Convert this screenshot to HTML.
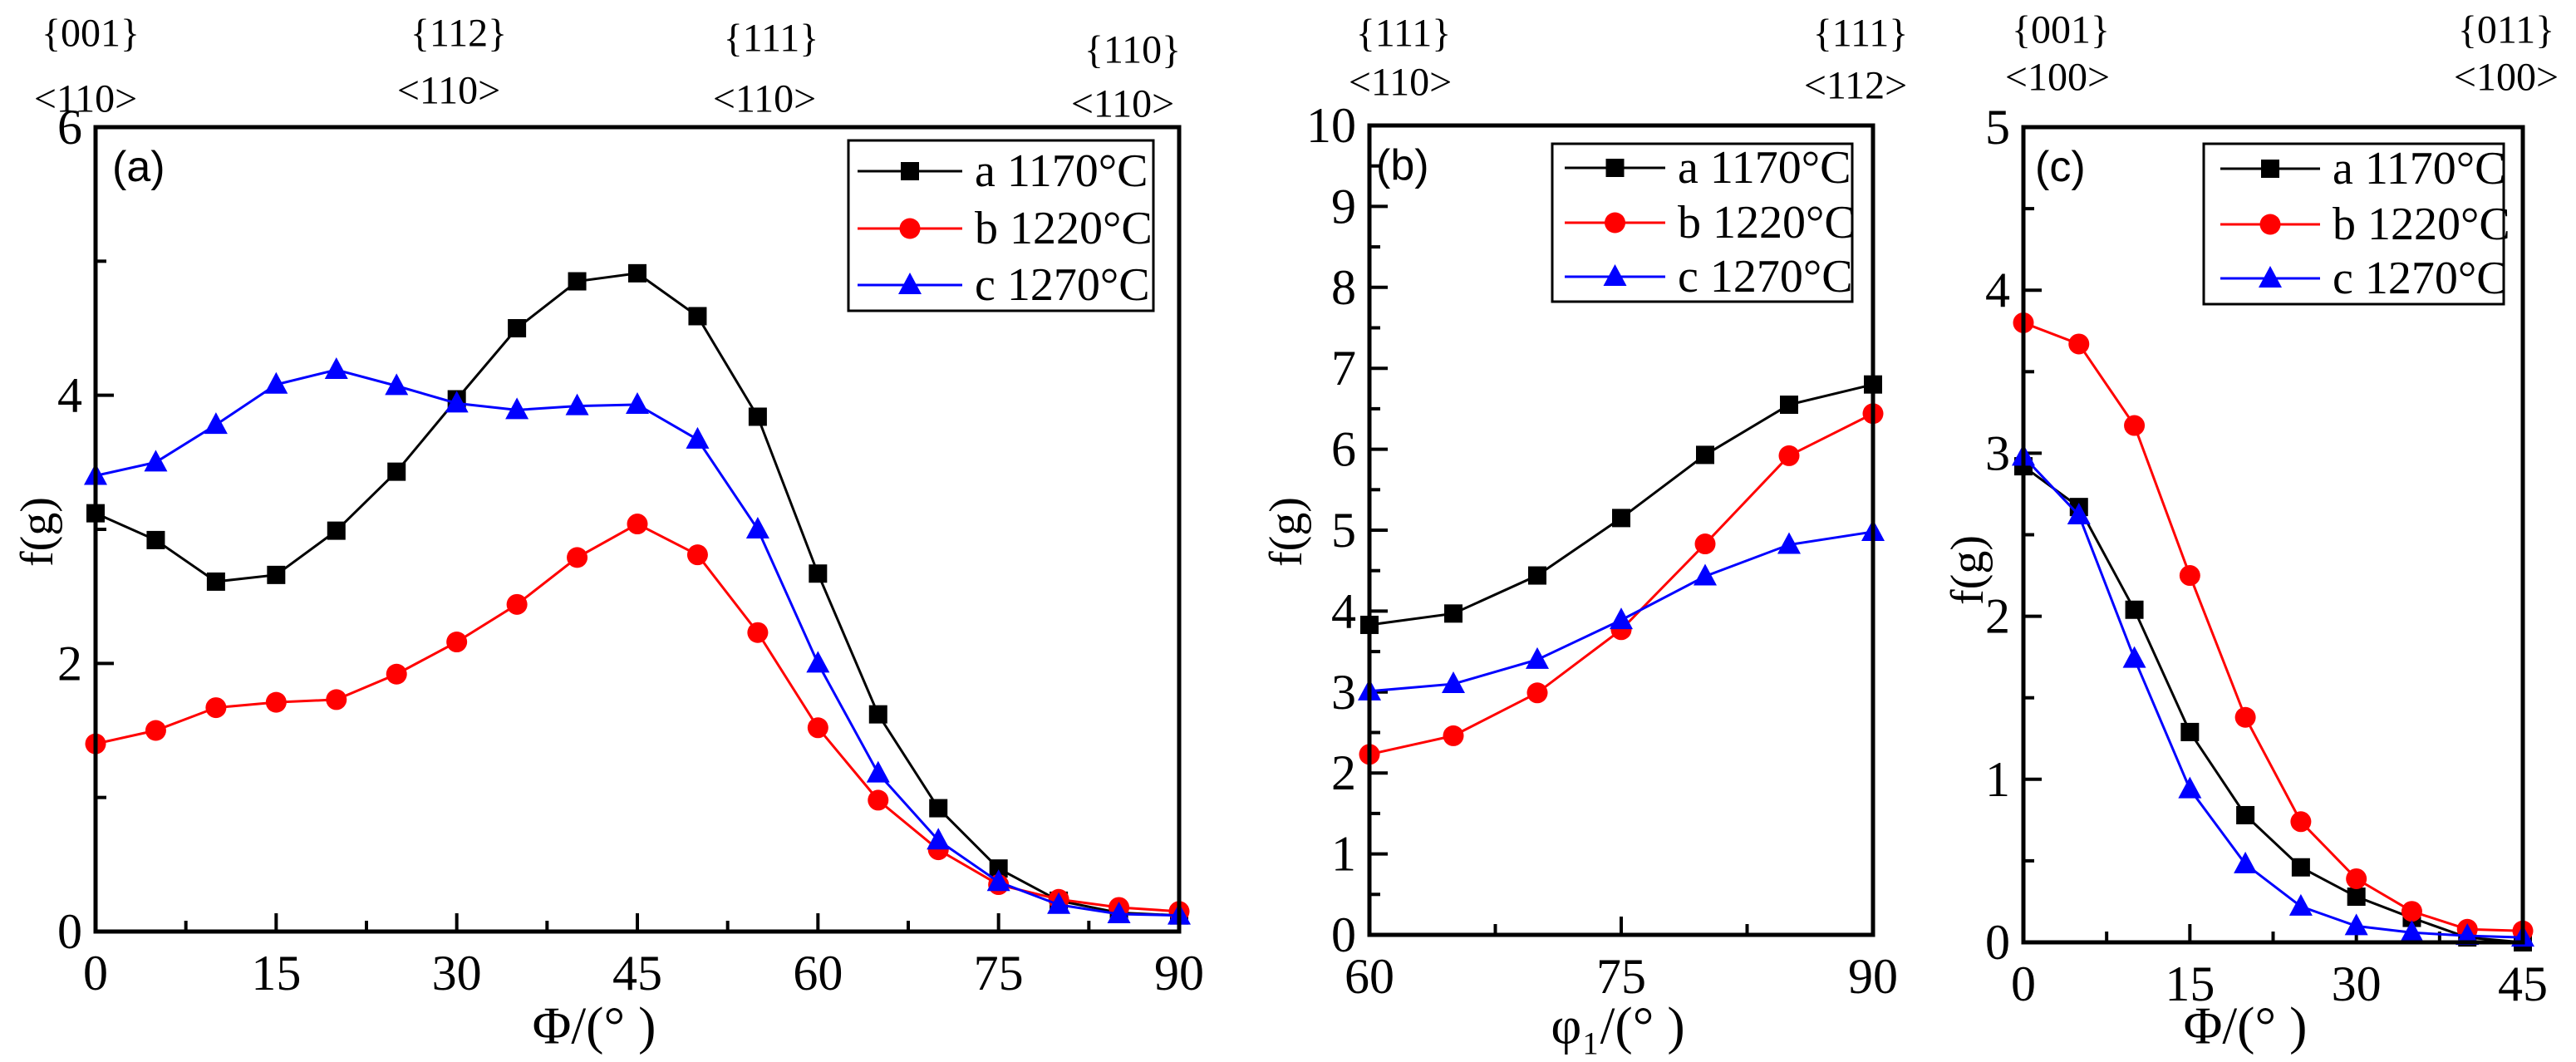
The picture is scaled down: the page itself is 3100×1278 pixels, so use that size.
<!DOCTYPE html>
<html><head><meta charset="utf-8"><style>
html,body{margin:0;padding:0;background:#fff}
svg{display:block}
text{font-family:"Liberation Serif",serif;fill:#000}
text.sans{font-family:"Liberation Sans",sans-serif}
</style></head><body>
<svg id="chart" width="3100" height="1278" viewBox="0 0 3100 1278"></svg>
<script>
// ---- data ----
const xA = [0,5,10,15,20,25,30,35,40,45,50,55,60,65,70,75,80,85,90];
const aA = [3.12,2.92,2.61,2.66,2.99,3.43,3.97,4.50,4.85,4.91,4.59,3.84,2.67,1.62,0.92,0.47,0.23,0.14,0.12];
const bA = [1.40,1.50,1.67,1.71,1.73,1.92,2.16,2.44,2.79,3.04,2.81,2.23,1.52,0.98,0.61,0.35,0.24,0.18,0.15];
const cA = [3.40,3.50,3.78,4.08,4.19,4.07,3.94,3.89,3.92,3.93,3.67,3.00,2.00,1.18,0.68,0.37,0.20,0.13,0.12];
const xB = [60,65,70,75,80,85,90];
const aB = [3.83,3.97,4.44,5.15,5.93,6.55,6.80];
const bB = [2.23,2.46,2.99,3.77,4.83,5.92,6.44];
const cB = [3.01,3.10,3.40,3.89,4.43,4.82,4.98];
const xC = [0,5,10,15,20,25,30,35,40,45];
const aC = [2.92,2.67,2.04,1.29,0.78,0.46,0.28,0.15,0.03,0.0];
const bC = [3.80,3.67,3.17,2.25,1.38,0.74,0.39,0.19,0.08,0.07];
const cC = [2.98,2.62,1.74,0.94,0.48,0.22,0.10,0.06,0.04,0.03];
const xTicksA = [0,15,30,45,60,75,90];
const yTicksA = [0,2,4,6];
const xTicksB = [60,75,90];
const yTicksB = [0,1,2,3,4,5,6,7,8,9,10];
const xTicksC = [0,15,30,45];
const yTicksC = [0,1,2,3,4,5];
const legendLabels = ["a 1170°C","b 1220°C","c 1270°C"];

const NS="http://www.w3.org/2000/svg";
const svg=document.getElementById('chart');
function mk(tag,attrs,parent){const e=document.createElementNS(NS,tag);for(const k in attrs)e.setAttribute(k,attrs[k]);(parent||svg).appendChild(e);return e;}
function txt(s,x,y,size,anchor,parent,extra){const t=mk('text',Object.assign({x:x,y:y,'font-size':size,'text-anchor':anchor||'middle','dominant-baseline':'central'},extra||{}),parent);t.textContent=s;return t;}
const colors=['#000','#f00','#00f'];
function marker(kind,x,y,col,g){
  let m;
  if(kind===0){m=mk('rect',{x:x-11,y:y-11,width:22,height:22,fill:col},g);}
  else if(kind===1){m=mk('circle',{cx:x,cy:y,r:12.5,fill:col},g);}
  else {m=mk('polygon',{points:`${x},${y-15} ${x-14},${y+11} ${x+14},${y+11}`,fill:col},g);}
  return m;
}
function panel(cfg){
  const g=mk('g',{});
  
  
  const sx=v=>cfg.L+(v-cfg.x0)/(cfg.x1-cfg.x0)*(cfg.R-cfg.L);
  const sy=v=>cfg.B-(v-cfg.y0)/(cfg.y1-cfg.y0)*(cfg.B-cfg.T);
  const tg=mk('g',{},g);
  
  
  for(let v=cfg.x0;v<=cfg.x1+1e-9;v+=cfg.xMinor){
    const major=Math.abs((v-cfg.x0)/cfg.xMajor-Math.round((v-cfg.x0)/cfg.xMajor))<1e-6;
    mk('line',{x1:sx(v),x2:sx(v),y1:cfg.B,y2:cfg.B-(major?22:13),stroke:'#000','stroke-width':4},tg);
  }
  for(let v=cfg.y0;v<=cfg.y1+1e-9;v+=cfg.yMinor){
    const major=Math.abs((v-cfg.y0)/cfg.yMajor-Math.round((v-cfg.y0)/cfg.yMajor))<1e-6;
    mk('line',{x1:cfg.L,x2:cfg.L+(major?22:13),y1:sy(v),y2:sy(v),stroke:'#000','stroke-width':4},tg);
  }
  cfg.xTicks.forEach(v=>{const t=txt(String(v),sx(v),cfg.B+50,60,'middle',g);
    
    });
  cfg.yTicks.forEach(v=>{const t=txt(String(v),cfg.L-16,sy(v),60,'end',g);
    
    });
  cfg.series.forEach((ys,i)=>{
    const sg=mk('g',{},g);
    
    
    const pts=ys.map((y,j)=>sx(cfg.xs[j])+','+sy(y)).join(' ');
    mk('polyline',{points:pts,fill:'none',stroke:colors[i],'stroke-width':3},sg);
    ys.forEach((y,j)=>{const m=marker(i,sx(cfg.xs[j]),sy(y),colors[i],sg);
      
      });
  });
  const fr=mk('rect',{x:cfg.L,y:cfg.T,width:cfg.R-cfg.L,height:cfg.B-cfg.T,fill:'none',stroke:'#000','stroke-width':5},g);
  
  
  const pl=txt(cfg.label,cfg.L+(cfg.labelDx||22),cfg.T+48,52,'start',g,{'class':'sans'});
  
  
  const lg=mk('g',{},g);
  
  
  const Lg=cfg.leg;
  mk('rect',{x:Lg.x,y:Lg.y,width:Lg.w,height:Lg.h,fill:'#fff',stroke:'#000','stroke-width':3},lg);
  legendLabels.forEach((s,i)=>{
    const eg=mk('g',{},lg);
    
    
    const yy=Lg.rows[i];
    mk('line',{x1:Lg.l1,x2:Lg.l2,y1:yy,y2:yy,stroke:colors[i],'stroke-width':3},eg);
    marker(i,(Lg.l1+Lg.l2)/2,yy,colors[i],eg);
    txt(s,Lg.tx,yy,56,'start',eg);
  });
  const xt=txt(cfg.xTitle,cfg.xtX,1234,64,'middle',g);
  
  
  const yt=txt('f(g)',0,0,56,'middle',g,{transform:`translate(${cfg.ytX},${cfg.ytY}) rotate(-90)`});
  
  
  cfg.ann.forEach(a=>{const t=txt(a[0],a[1],a[2],48,'middle',g);
    
    });
}
panel({name:'panel-a',L:115,R:1419,T:153,B:1121,x0:0,x1:90,y0:0,y1:6,xMajor:15,xMinor:7.5,yMajor:2,yMinor:1,
  xTicks:xTicksA,yTicks:yTicksA,xs:xA,series:[aA,bA,cA],label:'(a)',labelDx:20,
  leg:{x:1021,y:169,w:367,h:205,rows:[206,275,343],l1:1032,l2:1158,tx:1173},
  xTitle:'Φ/(°   )',xtX:715,ytX:45,ytY:640,
  ann:[['{001}',109,40],['<110>',103,119],['{112}',552,40],['<110>',540,109],['{111}',928,46],['<110>',920,119],['{110}',1363,60],['<110>',1351,125]]});
panel({name:'panel-b',L:1648,R:2254,T:151,B:1125,x0:60,x1:90,y0:0,y1:10,xMajor:15,xMinor:7.5,yMajor:1,yMinor:0.5,
  xTicks:xTicksB,yTicks:yTicksB,xs:xB,series:[aB,bB,cB],label:'(b)',labelDx:8,
  leg:{x:1868,y:173,w:361,h:190,rows:[202,268,333],l1:1883,l2:2004,tx:2019},
  xTitle:'φ₁/(°   )',xtX:1947,ytX:1548,ytY:640,
  ann:[['{111}',1689,40],['<110>',1685,99],['{111}',2239,40],['<112>',2233,103]]});
panel({name:'panel-c',L:2435,R:3036,T:153,B:1134,x0:0,x1:45,y0:0,y1:5,xMajor:15,xMinor:7.5,yMajor:1,yMinor:0.5,
  xTicks:xTicksC,yTicks:yTicksC,xs:xC,series:[aC,bC,cC],label:'(c)',labelDx:14,
  leg:{x:2652,y:173,w:361,h:193,rows:[203,270,335],l1:2672,l2:2792,tx:2807},
  xTitle:'Φ/(°   )',xtX:2702,ytX:2368,ytY:686,
  ann:[['{001}',2480,36],['<100>',2476,93],['{011}',3016,36],['<100>',3016,93]]});
</script>
</body></html>
